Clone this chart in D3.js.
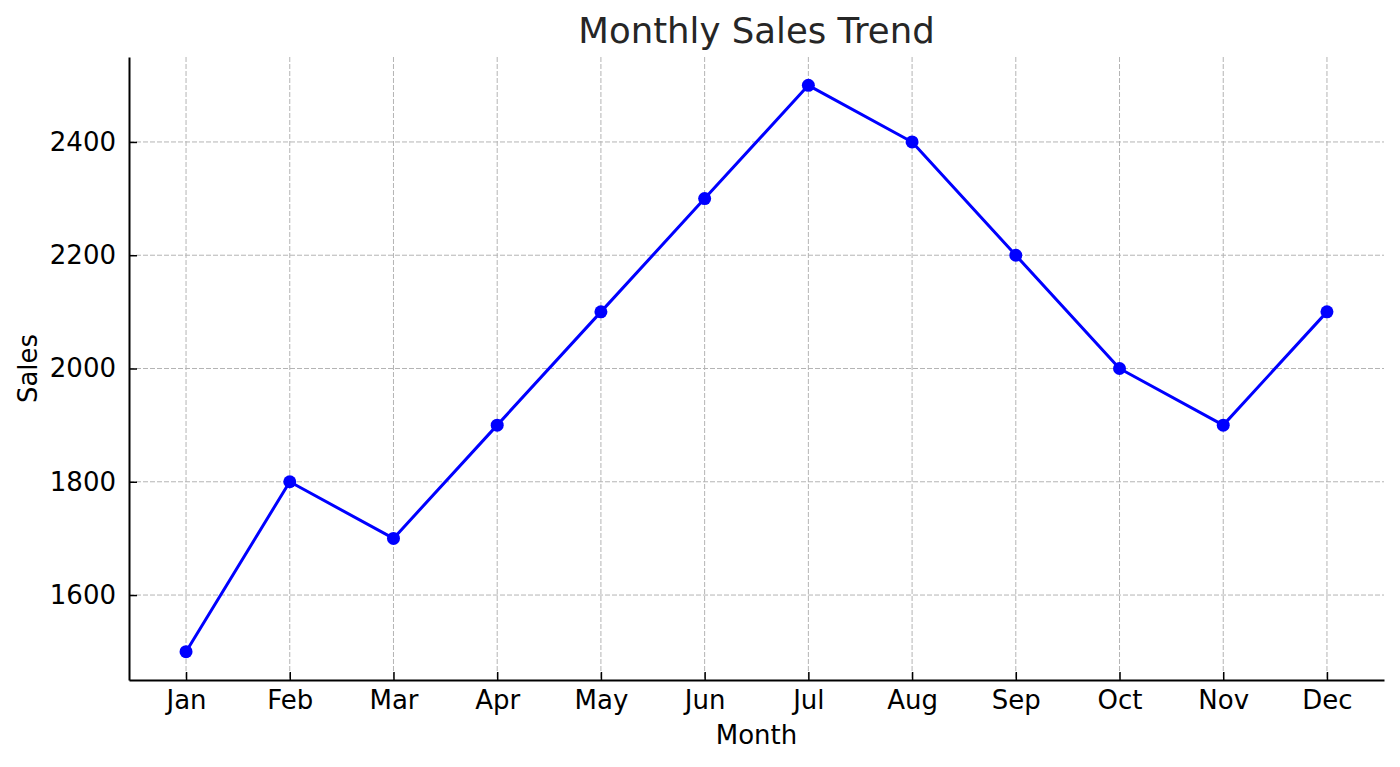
<!DOCTYPE html>
<html>
<head>
<meta charset="utf-8">
<script src="https://cdn.jsdelivr.net/npm/d3@7"></script>
<style>
  body { margin: 0; background: #fff; }
  text { font-family: "DejaVu Sans", sans-serif; }
</style>
</head>
<body>
<svg id="chart" width="1400" height="767"></svg>
<script>
// chart data
const months = ['Jan', 'Feb', 'Mar', 'Apr', 'May', 'Jun', 'Jul', 'Aug', 'Sep', 'Oct', 'Nov', 'Dec'];
const sales = [1500, 1800, 1700, 1900, 2100, 2300, 2500, 2400, 2200, 2000, 1900, 2100];
const yTicks = [1600, 1800, 2000, 2200, 2400];

const svg = d3.select('#chart');
const plotLeft = 129, plotRight = 1384, plotTop = 57, plotBottom = 680;

const x = d3.scalePoint().domain(months).range([plotLeft, plotRight]).padding(0.55);
const y = d3.scaleLinear().domain([1450, 2550]).range([plotBottom, plotTop]);

// grid lines (dashed, light gray)
const grid = svg.append('g').attr('stroke', '#b4b4b4').attr('stroke-width', 1).attr('stroke-dasharray', '5,2');
grid.selectAll('.vgrid')
  .data(months)
  .join('line')
  .attr('class', 'vgrid')
  .attr('x1', d => x(d)).attr('x2', d => x(d))
  .attr('y1', plotTop).attr('y2', plotBottom);
grid.selectAll('.hgrid')
  .data(yTicks)
  .join('line')
  .attr('class', 'hgrid')
  .attr('x1', plotLeft).attr('x2', plotRight)
  .attr('y1', d => y(d)).attr('y2', d => y(d));

// axes, ticks pointing inwards
const xAxis = d3.axisBottom(x).tickSizeInner(-8).tickSizeOuter(0).tickPadding(11);
const gx = svg.append('g').attr('transform', `translate(0,${plotBottom})`).call(xAxis);
const yAxis = d3.axisLeft(y).tickValues(yTicks).tickFormat(d3.format('d'))
  .tickSizeInner(-8).tickSizeOuter(0).tickPadding(13);
const gy = svg.append('g').attr('transform', `translate(${plotLeft},0)`).call(yAxis);

[gx, gy].forEach(g => {
  g.select('.domain').attr('stroke', '#000').attr('stroke-width', 2);
  g.selectAll('.tick line').attr('stroke', '#000').attr('stroke-width', 1.5);
  g.selectAll('.tick text')
    .attr('fill', '#000')
    .style('font-family', '"DejaVu Sans", sans-serif')
    .style('font-size', '26px');
});

// the sales line
const lineGen = d3.line()
  .x((d, i) => x(months[i]))
  .y(d => y(d));
svg.append('path')
  .datum(sales)
  .attr('fill', 'none')
  .attr('stroke', '#0000ff')
  .attr('stroke-width', 3)
  .attr('stroke-linejoin', 'round')
  .attr('d', lineGen);

svg.selectAll('.dot')
  .data(sales)
  .join('circle')
  .attr('class', 'dot')
  .attr('cx', (d, i) => x(months[i]))
  .attr('cy', d => y(d))
  .attr('r', 6.5)
  .attr('fill', '#0000ff');

// titles
const midX = (plotLeft + plotRight) / 2;
svg.append('text')
  .attr('x', midX).attr('y', 43)
  .attr('text-anchor', 'middle')
  .attr('fill', '#262626')
  .style('font-size', '35.5px')
  .text('Monthly Sales Trend');

svg.append('text')
  .attr('x', midX).attr('y', 744)
  .attr('text-anchor', 'middle')
  .attr('fill', '#000')
  .style('font-size', '26px')
  .text('Month');

svg.append('text')
  .attr('transform', `translate(37,${(plotTop + plotBottom) / 2}) rotate(-90)`)
  .attr('text-anchor', 'middle')
  .attr('fill', '#000')
  .style('font-size', '26px')
  .text('Sales');
</script>
</body>
</html>
